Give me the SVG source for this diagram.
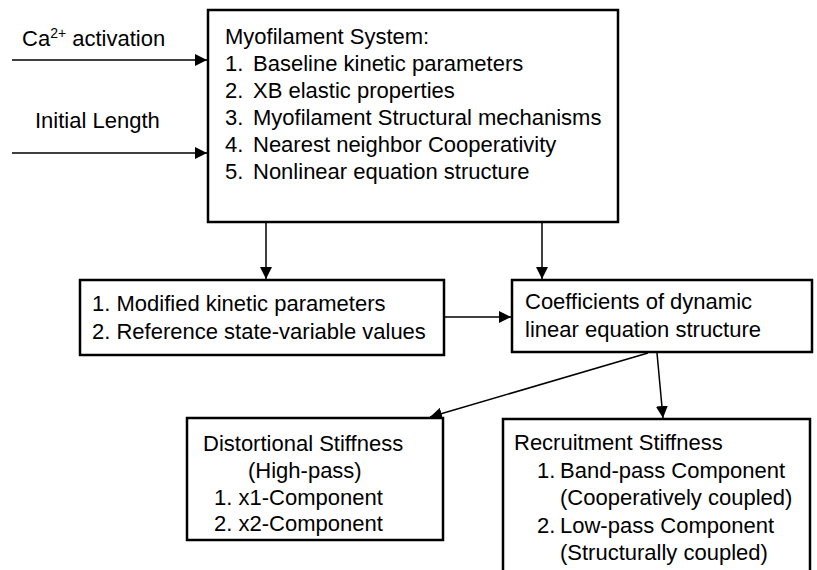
<svg xmlns="http://www.w3.org/2000/svg" width="817" height="570" viewBox="0 0 817 570">
<style>
text { font-family: "Liberation Sans", Arial, sans-serif; font-size: 22px; fill: #000; }
.box { fill: #fff; stroke: #000; stroke-width: 2.5; }
.conn { stroke: #000; stroke-width: 1.5; fill: none; marker-end: url(#ah); }
</style>
<defs>
<marker id="ah" markerWidth="12" markerHeight="12" viewBox="0 0 12 12" refX="12" refY="6" orient="auto" markerUnits="userSpaceOnUse">
<path d="M0,0 L12,6 L0,12 z" fill="#000"/>
</marker>
</defs>
<g id="inputs">
<text x="22" y="46">Ca<tspan font-size="14" dy="-8">2+</tspan><tspan dy="8"> activation</tspan></text>
<text x="35" y="128">Initial Length</text>
</g>
<g id="myofilament">
<rect class="box" x="208" y="10" width="410" height="212"/>
<text x="225" y="44">Myofilament System:</text>
<text x="225" y="71">1.<tspan x="253">Baseline kinetic parameters</tspan></text>
<text x="225" y="98">2.<tspan x="253">XB elastic properties</tspan></text>
<text x="225" y="125">3.<tspan x="253">Myofilament Structural mechanisms</tspan></text>
<text x="225" y="152">4.<tspan x="253">Nearest neighbor Cooperativity</tspan></text>
<text x="225" y="179">5.<tspan x="253">Nonlinear equation structure</tspan></text>
</g>
<g id="modified">
<rect class="box" x="80" y="280" width="364" height="75"/>
<text x="92" y="311">1. Modified kinetic parameters</text>
<text x="92" y="339">2. Reference state-variable values</text>
</g>
<g id="coefficients">
<rect class="box" x="512" y="280" width="300" height="72"/>
<text x="525" y="309">Coefficients of dynamic</text>
<text x="525" y="337">linear equation structure</text>
</g>
<g id="distortional">
<rect class="box" x="187" y="418" width="256" height="122"/>
<text x="203" y="451">Distortional Stiffness</text>
<text x="248" y="478">(High-pass)</text>
<text x="214" y="505">1. x1-Component</text>
<text x="214" y="531">2. x2-Component</text>
</g>
<g id="recruitment">
<rect class="box" x="503" y="419" width="307" height="160"/>
<text x="514" y="450">Recruitment Stiffness</text>
<text x="537" y="478">1.<tspan x="560">Band-pass Component</tspan></text>
<text x="560" y="505">(Cooperatively coupled)</text>
<text x="537" y="533">2.<tspan x="560">Low-pass Component</tspan></text>
<text x="560" y="560">(Structurally coupled)</text>
</g>
<g id="connectors">
<line class="conn" x1="12" y1="60" x2="207" y2="60"/>
<line class="conn" x1="12" y1="153" x2="207" y2="153"/>
<line class="conn" x1="266" y1="223" x2="266" y2="279"/>
<line class="conn" x1="542" y1="223" x2="542" y2="279"/>
<line class="conn" x1="445" y1="317" x2="511" y2="317"/>
<line class="conn" x1="648" y1="353" x2="430" y2="417"/>
<line class="conn" x1="657" y1="353" x2="663" y2="418"/>
</g>
</svg>
